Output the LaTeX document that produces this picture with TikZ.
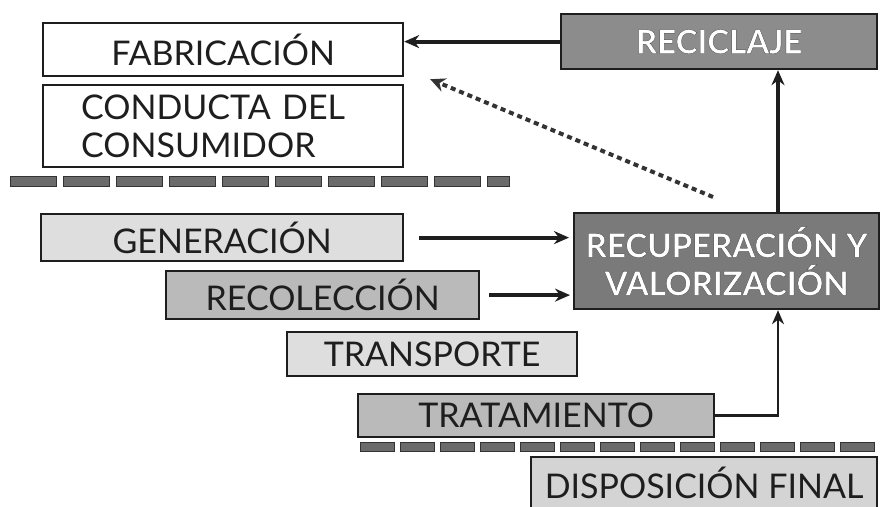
\documentclass[tikz,border=0pt]{standalone}
\usepackage{fontspec}
\setmainfont{Lato}
\usetikzlibrary{calc,arrows.meta}
% white letters with a dark outline (text render mode 2: fill, then stroke)
\newcommand\outl[1]{{\color{white}\special{pdf:literal direct 0.2 0.2 0.2 RG 0.25 w 2 Tr}#1\special{pdf:literal direct 0 Tr}}}
\definecolor{ink}{HTML}{1E1E1E}
\tikzset{
  stagebox/.style={draw=ink, line width=2.2pt, anchor=north west, inner sep=0pt,
    font=\fontsize{34}{38}\selectfont, text=ink},
  darkbox/.style={stagebox, font=\bfseries\fontsize{33}{38}\selectfont},
  seg/.style={fill=black!58, draw=black!80, line width=0.8pt},
  arr/.style={draw=ink, line width=4pt, -{Stealth[length=15pt,width=13pt]}},
  thinarr/.style={draw=ink, line width=2.6pt, -{Stealth[length=14pt,width=12pt]}},
  dasharr/.style={draw=black!80, line width=4pt, dash pattern=on 5pt off 4pt,
    -{Stealth[length=15pt,width=14pt]}}
}
\begin{document}
\begin{tikzpicture}[x=1pt,y=-1pt]
\useasboundingbox (0,0) rectangle (880,506);
% boxes
\node[stagebox, minimum width=360pt, minimum height=53pt] (fab) at (42,22) {FABRICACIÓN};
\node[stagebox, minimum width=360pt, minimum height=82pt, text width=284pt,
  inner xsep=38pt, align=left] (cond) at (42,84) {CONDUCTA DEL\\CONSUMIDOR};
\node[stagebox, fill=black!13, minimum width=362pt, minimum height=47pt] (gen) at (40,213) {GENERACIÓN};
\node[stagebox, fill=black!27, minimum width=313pt, minimum height=48pt] (reco) at (165,270) {RECOLECCIÓN};
\node[stagebox, fill=black!13, minimum width=290pt, minimum height=44pt] (trans) at (286,331) {TRANSPORTE};
\node[stagebox, fill=black!27, minimum width=356pt, minimum height=43pt] (trat) at (357,393) {TRATAMIENTO};
\node[stagebox, fill=black!17, minimum width=346pt, minimum height=55pt, text depth=0pt] (disp) at (530,456) {\raisebox{4pt}{DISPOSICIÓN FINAL}};
\node[darkbox, fill=black!45, minimum width=316pt, minimum height=55pt] (recic) at (560,13) {\outl{RECICLAJE}};
\node[darkbox, fill=black!52, minimum width=305pt, minimum height=96pt, align=center] (recup) at (573,212) {\outl{RECUPERACIÓN Y}\\\outl{VALORIZACIÓN}};
% segmented bars
\foreach \i in {0,...,8} { \draw[seg] (10+53*\i,176) rectangle ++(46,10); }
\draw[seg] (487,176) rectangle ++(22,10);
\foreach \i in {0,...,12} { \draw[seg] (360+40*\i,442) rectangle ++(34,9); }
% connectors
\coordinate (vx) at (778,0);
\coordinate (dstart) at (713,197);
\draw[arr] (recic.west) -- (recic.west -| fab.east);
\draw[dasharr] (dstart) -- ($(fab.south east)+(26,2)$);
\draw[arr] ([xshift=15pt]gen.east) -- ([xshift=-4pt]gen.east -| recup.west);
\draw[arr] ([xshift=9pt]reco.east) -- ([xshift=-3pt]reco.east -| recup.west);
\draw[thinarr] (trat.east) -| (recup.south -| vx);
\draw[arr] (recup.north -| vx) -- (recic.south -| vx);
\end{tikzpicture}
\end{document}
